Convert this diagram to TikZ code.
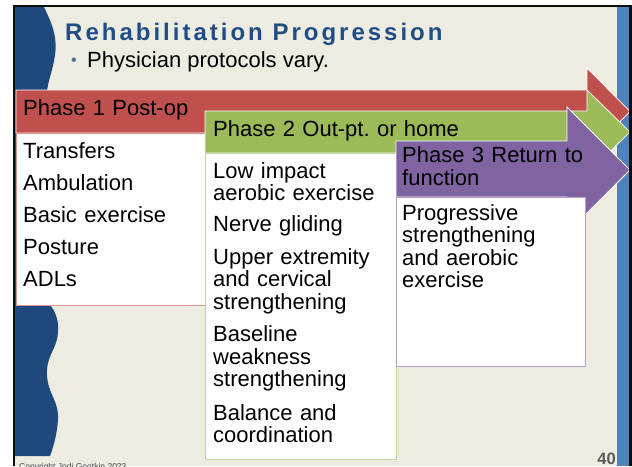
\documentclass[tikz,border=0pt]{standalone}
\usepackage{fontspec}
\setmainfont{Liberation Sans}
\frenchspacing

\definecolor{slidebg}{HTML}{EEECE1}
\definecolor{wavedark}{HTML}{1F497D}
\definecolor{barblue}{HTML}{4F81BD}
\definecolor{titleblue}{HTML}{1F4E86}
\definecolor{bulletblue}{HTML}{4A6C9B}
\definecolor{phasered}{HTML}{C0504D}
\definecolor{phasegreen}{HTML}{9BBB59}
\definecolor{phasepurple}{HTML}{8064A2}
\definecolor{edgered}{HTML}{D99694}
\definecolor{edgegreen}{HTML}{C3D69B}
\definecolor{edgepurple}{HTML}{B3A2C7}

\begin{document}
\begin{tikzpicture}[x=1pt, y=-1pt,
  arrowshape/.style={draw=white, line width=0.75pt},
  listbox/.style={fill=white, line width=0.9pt},
  txt/.style={anchor=base west, inner sep=0pt, text width=185pt, align=left,
    font=\fontsize{22}{22.5}\selectfont}]

  \useasboundingbox (0,0) rectangle (632,466);

  % slide background, side bar and wave
  \fill [slidebg] (15,7) rectangle (629,466);
  \fill [barblue] (617,5) rectangle (629,466);
  \fill [wavedark] (15,7) -- (44,7) .. controls (50,20) and (58,35) .. (55,55)
        .. controls (53,70) and (48,80) .. (47,92) -- (50,305)
        .. controls (56,312) and (59,322) .. (58,332)
        .. controls (57,350) and (46,355) .. (47,375)
        .. controls (48,395) and (59,400) .. (58,420)
        .. controls (57,435) and (53,448) .. (50,456) -- (15,456) -- cycle;

  \node (title) [anchor=base west, inner sep=0pt, text=titleblue,
        font=\fontsize{24}{24}\selectfont\bfseries\addfontfeature{LetterSpace=12.5}]
        at (65,40) {Rehabilitation Progression};
  \node (bullet) [anchor=base west, inner sep=0pt, text=bulletblue,
        font=\fontsize{16}{16}\selectfont] at (71,65) {•};
  \node (protocols) [anchor=base west, inner sep=0pt,
        font=\fontsize{22}{22}\selectfont] at (87,67) {Physician protocols vary.};

  % phase 1
  \fill [phasered, arrowshape]
        (16,90) -- (587,90) -- (587,68) -- (630,111.5) -- (587,155) -- (587,133)
        -- (16,133) -- cycle;
  \draw [listbox, draw=edgered] (16,133) rectangle (205,305);
  \node (phaseone) [txt] at (23,115) {Phase 1 Post-op};
  \node (transfers)  [txt] at (23,158) {Transfers};
  \node (ambulation) [txt] at (23,190) {Ambulation};
  \node (basicex)    [txt] at (23,222) {Basic exercise};
  \node (posture)    [txt] at (23,254) {Posture};
  \node (adls)       [txt] at (23,286) {ADLs};

  % phase 2
  \fill [phasegreen, arrowshape]
        (205,111) -- (587,111) -- (587,90) -- (630,132) -- (587,174) -- (587,153)
        -- (205,153) -- cycle;
  \draw [listbox, draw=edgegreen] (205,153) rectangle (396,459);
  \node (phasetwo) [txt, text width=300pt] at (213,136.7) {Phase 2 Out-pt. or home};
  \node (lowimpact) [txt] at (213,178)   {Low impact\\aerobic exercise};
  \node (nerve)     [txt] at (213,231.7) {Nerve gliding};
  \node (upperext)  [txt] at (213,264.3) {Upper extremity\\and cervical\\strengthening};
  \node (baseline)  [txt] at (213,341.7) {Baseline\\weakness\\strengthening};
  \node (balance)   [txt] at (213,420)   {Balance and\\coordination};

  % phase 3
  \fill [phasepurple, arrowshape]
        (396,141) -- (567,141) -- (567,107) -- (630,170) -- (567,233) -- (567,197)
        -- (396,197) -- cycle;
  \draw [listbox, draw=edgepurple] (396,197) rectangle (585,366);
  \node (phasethree)  [txt] at (402,162.7) {Phase 3 Return to\\function};
  \node (progressive) [txt] at (402,220)   {Progressive\\strengthening\\and aerobic\\exercise};

  % footer
  \node (copyright) [anchor=base west, inner sep=0pt, text=black!75,
        font=\fontsize{8.5}{8.5}\selectfont] at (19,469.5) {Copyright Jodi Gootkin 2023};
  \node (pagenum) [anchor=base east, inner sep=0pt, text=black!65,
        font=\fontsize{16.5}{16.5}\selectfont\bfseries] at (616,464) {40};

  % frame
  \fill [black!95] (13,5) rectangle (15,466);
  \fill [black!95] (13,5) rectangle (632,7);
  \fill [black!95] (629,5) rectangle (632,466);

\end{tikzpicture}
\end{document}
